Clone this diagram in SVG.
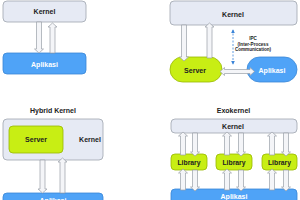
<svg xmlns="http://www.w3.org/2000/svg" width="300" height="200" viewBox="0 0 300 200">
<defs>
<style>
.k{fill:#e6eaf4;stroke:#9ea4ae;stroke-width:0.8}
.app{fill:#4fa3f7;stroke:#3a86d6;stroke-width:0.8}
.srv{fill:#c8ee14;stroke:#98b800;stroke-width:0.8}
.ar{fill:#f4f5f8;stroke:#9a9fa8;stroke-width:0.7}
.t{font-family:"Liberation Sans",Arial,sans-serif;font-weight:bold;text-anchor:middle;fill:#222;font-size:7px}
.w{fill:#fff}
.ipc{stroke:#3a84d8;stroke-width:0.8;stroke-dasharray:2,1.5;fill:none}
</style>
<marker id="bh" viewBox="0 0 6 6" refX="5" refY="3" markerWidth="5" markerHeight="5" orient="auto-start-reverse">
<path d="M0,0 L6,3 L0,6 z" fill="#3a84d8"/>
</marker>
</defs>
<rect width="300" height="200" fill="#fff"/>

<!-- Panel 1: monolithic -->
<g id="p1-kernel"><rect class="k" x="3" y="1" width="83" height="21" rx="4"/><text class="t" x="44.5" y="14">Kernel</text></g>
<g id="p1-app"><rect class="app" x="3" y="53" width="83" height="21" rx="4"/><text class="t w" x="44.5" y="66.5">Aplikasi</text></g>

<!-- Panel 2: microkernel -->
<g id="p2-kernel"><rect class="k" x="170" y="1" width="127" height="24" rx="4"/><text class="t" x="233" y="16.5">Kernel</text></g>
<g id="p2-server"><rect class="srv" x="170" y="57" width="52" height="25" rx="12.5"/><text class="t" x="195" y="73">Server</text></g>
<g id="p2-app"><rect class="app" x="247" y="57" width="50" height="25" rx="12.5" fill="#2f8ef0"/><text class="t w" x="272" y="73">Aplikasi</text></g>
<g id="p2-ipc-label"><text class="t" style="font-size:4.6px"><tspan x="253" y="40">IPC</tspan><tspan x="253" y="45.5">(Inter-Process</tspan><tspan x="253" y="51">Communication)</tspan></text></g>

<!-- Panel 3: hybrid -->
<g id="p3-title"><text class="t" x="53" y="112.5">Hybrid Kernel</text></g>
<g id="p3-kernel"><rect class="k" x="3" y="119" width="100" height="41" rx="4"/><text class="t" x="90" y="141.5">Kernel</text></g>
<g id="p3-server"><rect class="srv" x="9" y="126" width="54" height="27" rx="4"/><text class="t" x="36" y="141.5">Server</text></g>
<g id="p3-app"><rect class="app" x="3" y="193" width="100" height="14" rx="4"/><text class="t w" x="53" y="202.5">Aplikasi</text></g>

<!-- Panel 4: exokernel -->
<g id="p4-title"><text class="t" x="233.5" y="113">Exokernel</text></g>
<g id="p4-kernel"><rect class="k" x="171" y="119" width="126" height="14" rx="4"/><text class="t" x="233" y="128.5">Kernel</text></g>
<g id="p4-lib1"><rect class="srv" x="171" y="154" width="36" height="16" rx="4"/><text class="t" x="189" y="164.5" style="font-size:6.8px">Library</text></g>
<g id="p4-lib2"><rect class="srv" x="216" y="154" width="36" height="16" rx="4"/><text class="t" x="234" y="164.5" style="font-size:6.8px">Library</text></g>
<g id="p4-lib3"><rect class="srv" x="262" y="154" width="35" height="16" rx="4"/><text class="t" x="279.5" y="164.5" style="font-size:6.8px">Library</text></g>
<g id="p4-app"><rect class="app" x="171" y="189" width="126" height="16" rx="4"/><text class="t w" x="234" y="199">Aplikasi</text></g>

<g id="connectors">
<!-- panel 1 -->
<polygon class="ar" points="36.5,22 41.5,22 41.5,49 43.5,49 39,53 34.5,49 36.5,49"/>
<polygon class="ar" points="52.5,23 57,27 55,27 55,53 50,53 50,27 48,27"/>
<!-- panel 2 -->
<polygon class="ar" points="181.5,25 186.5,25 186.5,57 188.5,57 184,61 179.5,57 181.5,57"/>
<polygon class="ar" points="209.5,23 214,27 212,27 212,58 207,58 207,27 205,27"/>
<polygon class="ar" points="220,71.5 224.5,67.5 224.5,69.5 250,69.5 250,67.5 254.5,71.5 250,75.5 250,73.5 224.5,73.5 224.5,75.5"/>
<line class="ipc" x1="233" y1="30" x2="233" y2="64" marker-start="url(#bh)" marker-end="url(#bh)"/>
<!-- panel 3 -->
<polygon class="ar" points="40,160 45,160 45,189 47,189 42.5,193 38,189 40,189"/>
<polygon class="ar" points="62.5,158 67,162 65,162 65,193 60,193 60,162 58,162"/>
<!-- panel 4 upper -->
<polygon class="ar" points="183,132 187.5,136 185.5,136 185.5,155 180.5,155 180.5,136 178.5,136"/>
<polygon class="ar" points="192.5,133 197.5,133 197.5,152 199.5,152 195,156 190.5,152 192.5,152"/>
<polygon class="ar" points="227,132 231.5,136 229.5,136 229.5,155 224.5,155 224.5,136 222.5,136"/>
<polygon class="ar" points="238.5,133 243.5,133 243.5,152 245.5,152 241,156 236.5,152 238.5,152"/>
<polygon class="ar" points="272,132 276.5,136 274.5,136 274.5,155 269.5,155 269.5,136 267.5,136"/>
<polygon class="ar" points="283.5,133 288.5,133 288.5,152 290.5,152 286,156 281.5,152 283.5,152"/>
<!-- panel 4 lower -->
<polygon class="ar" points="183,169 187.5,173 185.5,173 185.5,190 180.5,190 180.5,173 178.5,173"/>
<polygon class="ar" points="192.5,170 197.5,170 197.5,187 199.5,187 195,191 190.5,187 192.5,187"/>
<polygon class="ar" points="227,169 231.5,173 229.5,173 229.5,190 224.5,190 224.5,173 222.5,173"/>
<polygon class="ar" points="238.5,170 243.5,170 243.5,187 245.5,187 241,191 236.5,187 238.5,187"/>
<polygon class="ar" points="272,169 276.5,173 274.5,173 274.5,190 269.5,190 269.5,173 267.5,173"/>
<polygon class="ar" points="283.5,170 288.5,170 288.5,187 290.5,187 286,191 281.5,187 283.5,187"/>
</g>
</svg>
